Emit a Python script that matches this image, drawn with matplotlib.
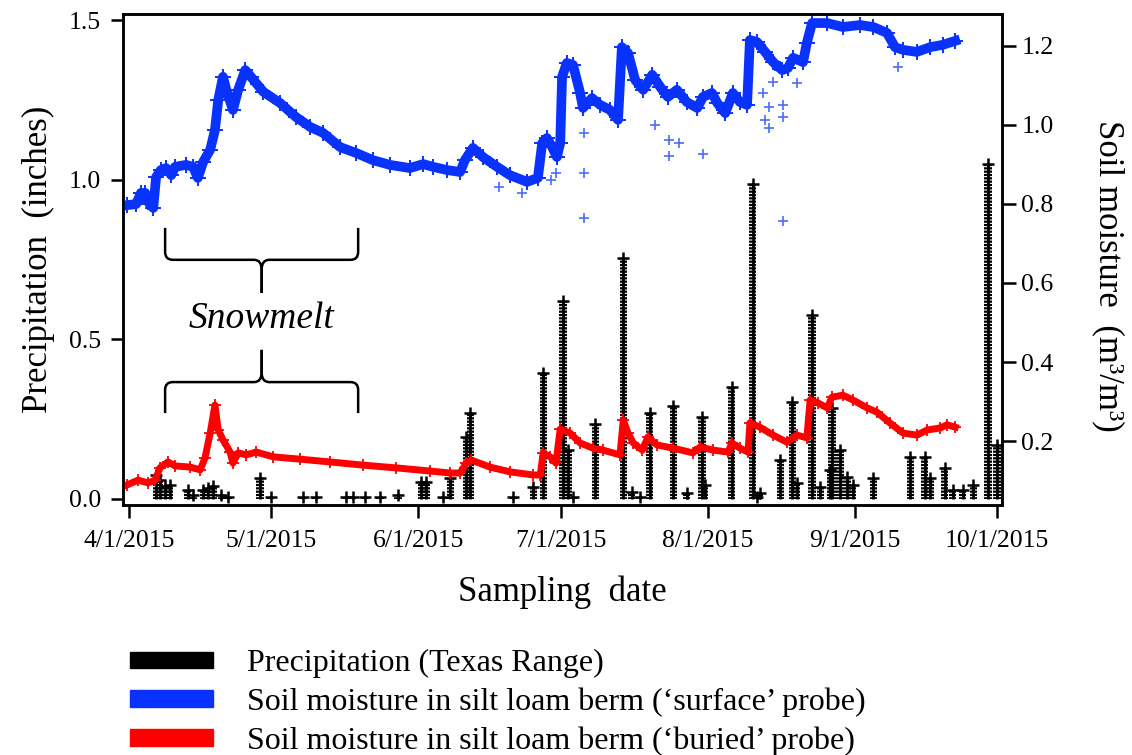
import matplotlib.pyplot as plt
import matplotlib.dates as mdates
import pandas as pd
from matplotlib.patches import Patch, PathPatch
from matplotlib.path import Path

plt.rcParams["font.family"] = ["Liberation Serif", "DejaVu Serif"]
plt.rcParams["hatch.linewidth"] = 1.6

START = pd.Timestamp("2015-04-01")
BLUE = "#0a32ff"
RED = "#ff0000"

# all days are counted from 4/1/2015
rain_day = [5.7, 6.5, 7.6, 8.6, 12.4, 13.5, 15.6, 16.7, 17.7, 19.4, 20.9, 27.6, 29.9, 36.7, 39.4,
            45.8, 47.2, 49.8, 52.9, 56.7, 61.6, 62.6, 66.2, 67.7, 71.1, 71.9, 81.0, 85.2, 87.3,
            91.5, 92.6, 93.6, 98.3, 104.2, 106.0, 107.7, 109.8, 114.7, 117.6, 120.8, 121.4,
            127.1, 131.5, 132.4, 133.0, 137.3, 139.8, 140.8, 144.0, 145.7, 147.8, 148.2, 149.9,
            151.4, 152.6, 156.9, 164.7, 167.8, 168.9, 172.0, 173.7, 175.8, 178.0, 181.1, 183.0]
rain_in = [0.075, 0.06, 0.04, 0.044, 0.028, 0.013, 0.028, 0.034, 0.041, 0.013, 0.006, 0.066, 0.006,
           0.006, 0.006, 0.006, 0.006, 0.006, 0.006, 0.013, 0.053, 0.053, 0.006, 0.066, 0.194, 0.27,
           0.006, 0.038, 0.395, 0.62, 0.153, 0.006, 0.235, 0.755, 0.022, 0.006, 0.27, 0.29, 0.019,
           0.257, 0.044, 0.35, 0.985, 0.006, 0.019, 0.122, 0.304, 0.05, 0.575, 0.038, 0.09, 0.285,
           0.153, 0.069, 0.044, 0.066, 0.132, 0.132, 0.066, 0.097, 0.028, 0.028, 0.044, 1.05, 0.17]

surface_day = [-0.4, 1.5, 2.5, 3.4, 4.0, 5.1, 5.7, 6.7, 7.8, 8.9, 9.7, 12.0, 13.5, 14.5, 15.6, 17.1,
               18.1, 18.8, 19.8, 20.5, 21.9, 23.0, 24.5, 25.7, 28.3, 31.8, 35.2, 38.2, 40.9, 44.5,
               47.9, 51.4, 55.0, 59.2, 62.0, 64.1, 67.0, 69.8, 70.8, 72.5, 74.6, 77.6, 80.3, 83.9,
               86.2, 87.1, 88.1, 89.2, 90.2, 90.9, 91.3, 92.3, 93.6, 95.1, 95.7, 97.6, 99.3, 101.4,
               103.1, 103.9, 105.2, 106.7, 108.4, 110.3, 112.0, 113.6, 115.5, 117.6, 119.8, 121.0,
               122.9, 124.0, 125.7, 127.3, 128.8, 130.3, 130.9, 132.4, 134.1, 135.8, 137.7, 138.9,
               140.0, 142.1, 142.9, 144.0, 147.2, 150.5, 154.1, 156.9, 159.8, 161.5, 163.2, 166.1,
               168.9, 171.6, 174.2]
surface_vwc = [0.797, 0.80, 0.828, 0.828, 0.805, 0.79, 0.868, 0.886, 0.891, 0.873, 0.894, 0.899,
               0.894, 0.866, 0.906, 0.937, 0.987, 1.063, 1.122, 1.089, 1.038, 1.089, 1.139, 1.122,
               1.084, 1.056, 1.020, 0.995, 0.980, 0.944, 0.929, 0.911, 0.899, 0.891, 0.901, 0.894,
               0.886, 0.881, 0.911, 0.942, 0.919, 0.894, 0.873, 0.856, 0.866, 0.954, 0.967, 0.944,
               0.919, 0.954, 1.122, 1.157, 1.152, 1.081, 1.043, 1.068, 1.051, 1.038, 1.013, 1.197,
               1.182, 1.114, 1.089, 1.127, 1.096, 1.071, 1.089, 1.058, 1.043, 1.071, 1.081, 1.056,
               1.030, 1.081, 1.058, 1.051, 1.215, 1.210, 1.185, 1.159, 1.139, 1.144, 1.170, 1.159,
               1.208, 1.258, 1.258, 1.248, 1.253, 1.248, 1.233, 1.197, 1.190, 1.185, 1.197, 1.203,
               1.213]

# stray readings of the surface probe
stray_day = [78.0, 82.9, 89.0, 90.0, 95.9, 95.9, 95.9, 110.9, 113.9, 113.9, 116.0, 121.0, 133.7,
             134.1, 134.9, 134.9, 137.9, 137.9, 140.8, 137.9, 135.8, 162.1]
stray_vwc = [0.843, 0.828, 0.861, 0.878, 0.878, 0.765, 0.980, 1.0, 0.962, 0.922, 0.954, 0.927, 1.081,
             1.013, 0.992, 1.046, 1.051, 1.020, 1.106, 0.757, 1.109, 1.147]

buried_day = [-0.4, 1.9, 4.0, 5.5, 6.5, 8.2, 9.7, 12.9, 15.0, 16.0, 17.1, 18.1, 18.8, 19.8, 21.3,
              21.9, 23.0, 24.7, 26.8, 30.4, 36.1, 42.4, 49.3, 56.3, 63.5, 67.7, 69.8, 71.1, 72.1,
              76.1, 80.3, 85.2, 86.7, 87.3, 88.8, 90.0, 90.9, 93.0, 95.1, 97.8, 99.9, 103.5, 104.2,
              105.2, 106.3, 108.2, 109.4, 111.3, 114.7, 118.9, 120.4, 123.1, 126.3, 127.1, 128.8,
              130.5, 130.9, 133.0, 135.8, 138.7, 140.8, 142.9, 143.6, 145.3, 147.2, 148.2, 150.5,
              152.6, 155.6, 157.7, 160.4, 163.2, 166.1, 168.3, 171.0, 172.5, 174.2]
buried_vwc = [0.089, 0.101, 0.094, 0.101, 0.132, 0.147, 0.137, 0.134, 0.127, 0.157, 0.220, 0.291,
              0.228, 0.203, 0.172, 0.144, 0.170, 0.165, 0.172, 0.160, 0.154, 0.147, 0.139, 0.132,
              0.124, 0.119, 0.119, 0.144, 0.152, 0.134, 0.122, 0.114, 0.114, 0.170, 0.160, 0.144,
              0.230, 0.220, 0.195, 0.182, 0.177, 0.165, 0.253, 0.220, 0.195, 0.177, 0.210, 0.190,
              0.182, 0.170, 0.185, 0.177, 0.172, 0.195, 0.182, 0.172, 0.246, 0.235, 0.215, 0.197,
              0.215, 0.208, 0.304, 0.296, 0.284, 0.311, 0.316, 0.304, 0.284, 0.273, 0.246, 0.220,
              0.215, 0.228, 0.233, 0.241, 0.235]

snowmelt = (7.6, 48.3)

xtick_dates = ["2015-04-01", "2015-05-01", "2015-06-01", "2015-07-01", "2015-08-01", "2015-09-01", "2015-10-01"]
xtick_labels = ["4/1/2015", "5/1/2015", "6/1/2015", "7/1/2015", "8/1/2015", "9/1/2015", "10/1/2015"]
legend_labels = ["Precipitation (Texas Range)",
                 "Soil moisture in silt loam berm (\u2018surface\u2019 probe)",
                 "Soil moisture in silt loam berm (\u2018buried\u2019 probe)"]


def to_date(days):
    return START + pd.to_timedelta(days, unit="D")


def brace(ax, x0, x1, y_tip, y_bar, y_cusp, dx=1.6):
    xm = (x0 + x1) / 2
    dy = (y_bar - y_tip) * 0.25
    dc = (y_cusp - y_bar) * 0.3
    for xe, s in ((x0, 1), (x1, -1)):
        xe_n = mdates.date2num(to_date(xe))
        xm_n = mdates.date2num(to_date(xm))
        d = dx * s
        verts = [(xe_n, y_tip), (xe_n, y_bar - dy), (xe_n, y_bar), (xe_n + d, y_bar),
                 (xm_n - d, y_bar), (xm_n, y_bar), (xm_n, y_bar + dc), (xm_n, y_cusp)]
        codes = [Path.MOVETO, Path.LINETO, Path.CURVE3, Path.CURVE3,
                 Path.LINETO, Path.CURVE3, Path.CURVE3, Path.LINETO]
        ax.add_patch(PathPatch(Path(verts, codes), fill=False, lw=1.8, color="black"))


fig = plt.figure(figsize=(11.32, 7.55), dpi=100)
ax = fig.add_axes([0.1087, 0.3311, 0.7765, 0.6504])
ax2 = ax.twinx()

rain_dates = to_date(rain_day)
ax.bar(rain_dates, rain_in, width=1.5, facecolor="none", edgecolor="black", linewidth=0, hatch="-----")
ax.vlines(rain_dates, 0, rain_in, color="black", lw=2)
ax.plot(rain_dates, rain_in, "+", color="black", ms=8, mew=1.8)

ax2.plot(to_date(surface_day), surface_vwc, color=BLUE, lw=7)
ax2.plot(to_date(surface_day), surface_vwc, "+", color=BLUE, ms=11, mew=1.4)
ax2.plot(to_date(stray_day), stray_vwc, "+", color="#4a6cff", ms=7, mew=1.2)
ax2.plot(to_date(buried_day), buried_vwc, color=RED, lw=5)
ax2.plot(to_date(buried_day), buried_vwc, "+", color=RED, ms=9, mew=1.3)

brace(ax, snowmelt[0], snowmelt[1], 0.849, 0.749, 0.645)
brace(ax, snowmelt[0], snowmelt[1], 0.269, 0.366, 0.467)
ax.text(to_date((snowmelt[0] + snowmelt[1]) / 2), 0.565, "Snowmelt", ha="center", va="center",
        fontsize=27, style="italic")

ax.set_xlim(to_date(-1.27), to_date(184.06))
ax.set_ylim(-0.019, 1.519)
ax2.set_ylim(0.038, 1.281)

ax.set_xticks(pd.to_datetime(xtick_dates))
ax.set_xticklabels(xtick_labels)
ax.set_yticks([0.0, 0.5, 1.0, 1.5])
ax.set_yticklabels(["0.0", "0.5", "1.0", "1.5"])
ax2.set_yticks([0.2, 0.4, 0.6, 0.8, 1.0, 1.2])
ax2.set_yticklabels(["0.2", "0.4", "0.6", "0.8", "1.0", "1.2"])

for spine in list(ax.spines.values()) + list(ax2.spines.values()):
    spine.set_linewidth(1.8)
ax.tick_params(direction="out", length=9, width=1.8, pad=7, labelsize=18.5)
ax.tick_params(axis="x", pad=9)
ax2.tick_params(direction="out", length=10, width=1.8, pad=4, labelsize=18.5)

ax.set_xlabel("Sampling  date", fontsize=25, labelpad=17)
ax.set_ylabel("Precipitation  (inches)", fontsize=25, labelpad=10)
ax2.set_ylabel("Soil moisture  (m\u00b3/m\u00b3)", fontsize=25, rotation=270, va="bottom")
ax2.yaxis.set_label_coords(1.102, 0.466)

handles = [Patch(color="black"), Patch(color=BLUE), Patch(color=RED)]
fig.legend(handles, legend_labels, loc="upper left", bbox_to_anchor=(130 / 1132, 0.140),
           frameon=False, fontsize=23, handlelength=2.6, handleheight=0.43, handletextpad=1.07,
           labelspacing=0.29, borderpad=0, borderaxespad=0)

fig.savefig("out.png", dpi=100)
